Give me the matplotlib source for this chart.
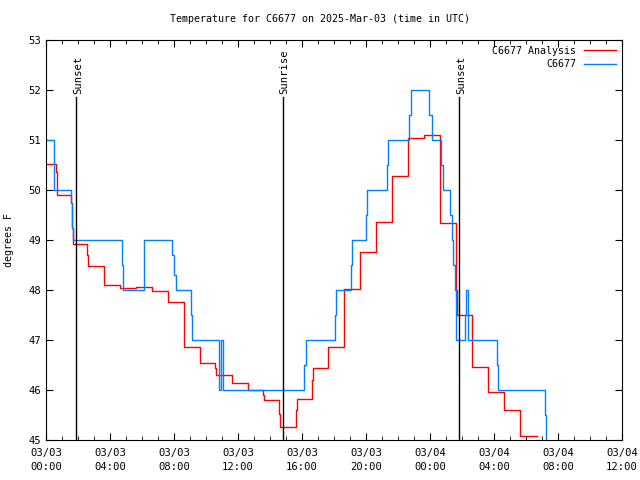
import matplotlib
matplotlib.use('Agg')
import matplotlib.pyplot as plt
from matplotlib.ticker import MultipleLocator

# Hours since 03/03 00:00 UTC, step values (post)
obs_hours = [0, 0.52, 1.58, 1.64, 1.71, 4.77, 4.83, 6.1, 6.15, 7.9, 8.0, 8.1,
             9.04, 9.1, 10.83, 10.92, 11.04, 11.08, 16.15, 16.25, 18.06, 18.15,
             19.04, 19.15, 20.0, 20.08, 21.33, 21.4, 22.69, 22.8, 23.95, 24.1,
             24.7, 24.8, 25.25, 25.35, 25.45, 25.55, 25.65, 26.18, 26.27, 26.35,
             28.17, 28.23, 31.2, 31.25, 31.45]
obs_temp = [51.0, 50.0, 49.75, 49.24, 49.0, 48.5, 48.0, 48.5, 49.0, 48.7, 48.3, 48.0,
            47.5, 47.0, 46.0, 47.0, 46.5, 46.0, 46.5, 47.0, 47.5, 48.0,
            48.5, 49.0, 49.5, 50.0, 50.5, 51.0, 51.5, 52.0, 51.5, 51.0,
            50.5, 50.0, 49.5, 49.0, 48.5, 48.0, 47.0, 47.5, 48.0, 47.0,
            46.5, 46.0, 45.5, 44.9, 44.9]

ana_hours = [0, 0.6, 0.66, 1.58, 1.62, 1.71, 2.58, 2.65, 3.6, 3.65, 4.65, 5.63,
             6.6, 7.6, 7.65, 8.6, 8.65, 9.6, 9.65, 10.58, 10.64, 11.6, 12.64,
             13.58, 13.65, 14.58, 14.64, 15.6, 15.67, 16.6, 16.67, 17.6, 17.64,
             18.6, 18.64, 19.6, 19.64, 20.6, 20.64, 21.6, 21.64, 22.6, 22.64,
             23.6, 24.6, 24.65, 25.6, 25.66, 26.6, 26.65, 27.6, 27.64, 28.6,
             28.64, 29.6, 29.64, 30.67]
ana_temp = [50.53, 50.37, 49.9, 49.74, 49.24, 48.93, 48.7, 48.48, 48.3, 48.11, 48.05, 48.07,
            47.99, 47.9, 47.76, 47.32, 46.87, 46.72, 46.55, 46.45, 46.3, 46.15, 46.0,
            45.9, 45.8, 45.53, 45.27, 45.6, 45.83, 46.2, 46.45, 46.7, 46.86,
            47.4, 48.03, 48.4, 48.77, 49.1, 49.37, 49.9, 50.29, 50.7, 51.05,
            51.11, 50.23, 49.35, 48.0, 47.51, 46.9, 46.47, 46.2, 45.97, 45.8,
            45.61, 45.3, 45.08, 45.08]

sun_events = [(1.89, 'Sunset'), (14.81, 'Sunrise'), (25.84, 'Sunset')]
tick_hours = [0, 4, 8, 12, 16, 20, 24, 28, 32, 36]
tick_labels = ['03/03\n00:00', '03/03\n04:00', '03/03\n08:00', '03/03\n12:00',
               '03/03\n16:00', '03/03\n20:00', '03/04\n00:00', '03/04\n04:00',
               '03/04\n08:00', '03/04\n12:00']

plt.rcParams['font.family'] = 'DejaVu Sans Mono'
plt.rcParams['font.size'] = 7.2

fig = plt.figure(figsize=(6.4, 4.8), dpi=100)
ax = fig.add_axes([46 / 640, 40 / 480, 576 / 640, 400 / 480])

ax.step(ana_hours, ana_temp, where='post', color='#ff0000', lw=1.0, label='C6677 Analysis')
ax.step(obs_hours, obs_temp, where='post', color='#0080ff', lw=1.0, label='C6677')

# Sunrise / sunset markers
for h, name in sun_events:
    ax.plot([h, h], [45, 51.86], color='black', lw=1.0)
    ax.text(h + 0.1, 51.93, name, rotation=90, ha='center', va='bottom', fontsize=7.6)

ax.set_xlim(0, 36)
ax.set_ylim(45, 53)
ax.set_xticks(tick_hours)
ax.set_xticklabels(tick_labels, linespacing=1.4)
ax.xaxis.set_minor_locator(MultipleLocator(1))
ax.set_yticks(range(45, 54))
ax.tick_params(which='both', direction='in', top=True, right=True)
ax.tick_params(which='major', length=5, labelsize=7.6)
ax.tick_params(which='minor', length=3)
ax.tick_params(axis='x', pad=6)
ax.set_ylabel('degrees F')
ax.yaxis.set_label_coords(-0.055, 0.5)

ax.legend(loc='upper right', frameon=False, markerfirst=False, handlelength=3.2,
          borderaxespad=0.2, labelspacing=0.35)

fig.text(0.5, 1 - 19 / 480, 'Temperature for C6677 on 2025-Mar-03 (time in UTC)',
         ha='center', va='center', fontsize=7.2)

fig.savefig('out.png', dpi=100)
